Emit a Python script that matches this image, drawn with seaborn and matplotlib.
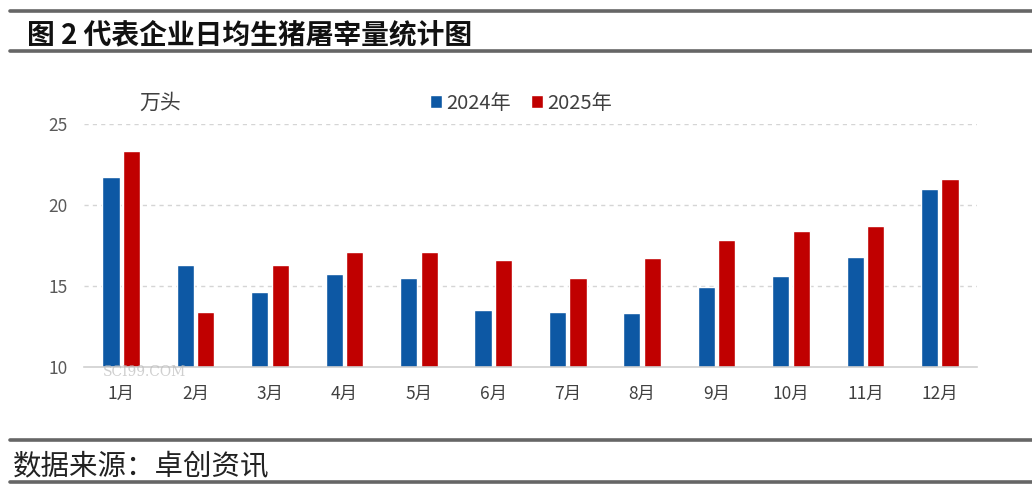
import matplotlib
matplotlib.use("Agg")
import matplotlib.pyplot as plt
from matplotlib.lines import Line2D
import seaborn as sns
import pandas as pd

months = ["1月", "2月", "3月", "4月", "5月", "6月", "7月", "8月", "9月", "10月", "11月", "12月"]
vals_2024 = [21.7, 16.3, 14.6, 15.7, 15.5, 13.5, 13.4, 13.3, 14.9, 15.6, 16.8, 21.0]
vals_2025 = [23.3, 13.4, 16.3, 17.1, 17.1, 16.6, 15.5, 16.7, 17.8, 18.4, 18.7, 21.6]
series_names = ["2024年", "2025年"]
colors = ["#0D58A4", "#C00000"]
y_ticks = [10, 15, 20, 25]

sns.set_style("white")
plt.rcParams["font.family"] = ["Noto Sans CJK SC", "DejaVu Sans"]

df = pd.DataFrame({
    "month": months * 2,
    "value": vals_2024 + vals_2025,
    "year": [series_names[0]] * len(months) + [series_names[1]] * len(months),
})

fig = plt.figure(figsize=(10.32, 4.91), dpi=100)
ax = fig.add_axes([0.0814, 0.2532, 0.8653, 0.4943])

sns.barplot(data=df, x="month", y="value", hue="year", palette=colors,
            width=0.55, gap=0.16, ax=ax, saturation=1, legend=True)

ax.set_ylim(10, 25)
ax.set_xlim(-0.5, 11.5)
ax.set_yticks(y_ticks)
ax.set_xlabel("")
ax.set_ylabel("")
for s in ["top", "right", "left"]:
    ax.spines[s].set_visible(False)
ax.spines["bottom"].set_color("#D0D0D0")
ax.spines["bottom"].set_linewidth(1.2)
ax.tick_params(axis="y", length=0, pad=12, labelsize=12.5, labelcolor="#595959")
ax.tick_params(axis="x", length=0, pad=13, labelsize=12.5, labelcolor="#404040")
for yv in y_ticks[1:]:
    ax.axhline(yv, color="#D5D5D5", lw=1.0, ls=(0, (3, 3)), zorder=0)

handles, labels = ax.get_legend_handles_labels()
ax.legend(handles, labels, loc="center", bbox_to_anchor=(0.505, 0.790),
          bbox_transform=fig.transFigure, ncol=2, frameon=False,
          handlelength=0.6, handleheight=0.6, handletextpad=0.2,
          columnspacing=1.0, fontsize=14.5, labelcolor="#404040")

fig.text(0.135, 0.790, "万头", fontsize=15, color="#404040", va="center", ha="left")

# header and footer
fig.text(0.026, 0.927, "图 2 代表企业日均生猪屠宰量统计图", fontsize=20, fontweight="bold",
         color="#111111", va="center", ha="left")
fig.text(0.012, 0.049, "数据来源：卓创资讯", fontsize=20.5, color="#222222",
         va="center", ha="left")
for yf in [0.977, 0.896, 0.104, 0.019]:
    fig.add_artist(Line2D([0.01, 1.0], [yf, yf], transform=fig.transFigure,
                          color="#666666", lw=2.6))

fig.text(0.10, 0.243, "SCI99.COM", fontsize=10, color="#BBBBBB", alpha=0.7,
         family="DejaVu Serif", va="center", ha="left", zorder=5)

fig.savefig("out.png", dpi=100, facecolor="white")
